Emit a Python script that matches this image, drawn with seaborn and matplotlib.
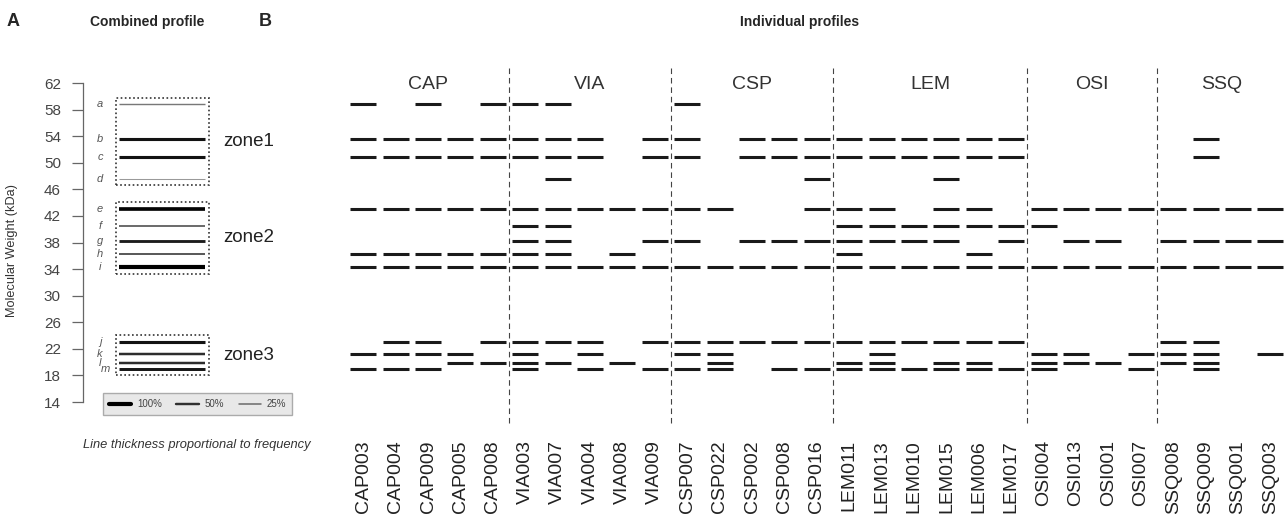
import numpy as np
import pandas as pd
import matplotlib.pyplot as plt
import seaborn as sns
from matplotlib.lines import Line2D
from matplotlib.patches import Rectangle

# samples in display order
samples = ['CAP003', 'CAP004', 'CAP009', 'CAP005', 'CAP008',
           'VIA003', 'VIA007', 'VIA004', 'VIA008', 'VIA009',
           'CSP007', 'CSP022', 'CSP002', 'CSP008', 'CSP016',
           'LEM011', 'LEM013', 'LEM010', 'LEM015', 'LEM006', 'LEM017',
           'OSI004', 'OSI013', 'OSI001', 'OSI007',
           'SSQ008', 'SSQ009', 'SSQ001', 'SSQ003']

# bands (kDa) and their zone
band_names = list('abcdefghijklm')
band_kda = [58.8, 53.6, 50.8, 47.6, 43.1, 40.5, 38.2, 36.3, 34.3, 23.1, 21.2, 19.8, 19.0]
band_zone = [1, 1, 1, 1, 2, 2, 2, 2, 2, 3, 3, 3, 3]

# bands present in each sample
profiles = ['abcehikm', 'bcehijkm', 'abcehijkm', 'bcehikl', 'abcehijl',
            'abcefghijklm', 'abcdefghijl', 'bceijkm', 'ehil', 'bcegijm',
            'abcegijkm', 'eijklm', 'bcgij', 'bcgijm', 'bcdegijm',
            'bcefghijlm', 'bcefgijklm', 'bcfgijm', 'bcdefgijlm', 'bcefhijlm', 'bcfgijm',
            'efiklm', 'egikl', 'egil', 'eikm',
            'egijkl', 'bcegijklm', 'egi', 'egik']

legend_levels = [1.0, 0.5, 0.25]
legend_labels = ['100%', '50%', '25%']

sns.set_theme(style='white')
plt.rcParams['font.family'] = ['Liberation Sans', 'DejaVu Sans']

W, H = 1285, 515
fig = plt.figure(figsize=(W / 100, H / 100), dpi=100)

rows = []
for i, (s, p) in enumerate(zip(samples, profiles)):
    for b in p:
        rows.append({'sample': s, 'pos': i, 'band': b,
                     'kda': band_kda[band_names.index(b)]})
df = pd.DataFrame(rows)
df['group'] = df['sample'].str[:3]

freq = (df.groupby('band')['sample'].nunique()
        .reindex(band_names).fillna(0) / len(samples)).values


def line_width(f):
    return 0.5 + 2.5 * f


def line_grey(f):
    return str(round(0.75 * (1 - f) ** 2, 3))


# ---------- A: combined profile ----------
axA = fig.add_axes([83 / W, 1 - 402 / H, 247 / W, 319 / H])
axA.set_xlim(0, 247)
axA.set_ylim(14, 62)
for sp in ['top', 'right', 'bottom']:
    axA.spines[sp].set_visible(False)
axA.spines['left'].set_color('#666')
axA.spines['left'].set_linewidth(0.9)
axA.set_xticks([])
axA.set_yticks(np.arange(14, 63, 4))
axA.tick_params(axis='y', left=True, length=7.9, width=0.9, color='#666',
                labelsize=11, labelcolor='#444', pad=8)
axA.set_ylabel('Molecular Weight (kDa)', fontsize=9.2, color='#333')
axA.yaxis.set_label_coords(-0.263, 0.476)

axA.hlines(band_kda, 36, 122, linewidths=[line_width(f) for f in freq],
           colors=[line_grey(f) for f in freq])

# letters: crowded ones (zone3) get squeezed side by side like the original
prev = None
shift = 0
for name, kda in zip(band_names, band_kda):
    if prev is not None and prev - kda < 1.0:
        shift = 5 if shift <= 0 else -3
    else:
        shift = 0
    axA.text(17 + shift, kda, name, style='italic', color='#555', fontsize=8,
             ha='center', va='center')
    prev = kda

for z in sorted(set(band_zone)):
    vals = [k for k, zz in zip(band_kda, band_zone) if zz == z]
    lo, hi = min(vals) - 1.0, max(vals) + 1.0
    axA.add_patch(Rectangle((32.7, lo), 93.6, hi - lo, fill=False,
                            ls=(0, (1, 1.5)), lw=1.2, ec='#333'))
    axA.text(140, (lo + hi) / 2, f'zone{z}', fontsize=13.5, color='#222',
             ha='left', va='center')

handles = [Line2D([], [], lw=line_width(f), color=line_grey(f)) for f in legend_levels]
leg = axA.legend(handles, legend_labels, ncol=3, fontsize=7, loc='center',
                 bbox_to_anchor=(197.5 / W, 1 - 404 / H),
                 bbox_transform=fig.transFigure, frameon=True, fancybox=False,
                 handlelength=2.3, handletextpad=0.6, columnspacing=1.5,
                 borderpad=0.6, labelcolor='#444')
leg.get_frame().set_facecolor('#e3e3e3')
leg.get_frame().set_edgecolor('#999')
leg.get_frame().set_linewidth(1)

fig.text(197 / W, 1 - 445 / H, 'Line thickness proportional to frequency',
         style='italic', fontsize=9.3, color='#333', ha='center', va='center')

# ---------- B: individual profiles ----------
axB = fig.add_axes([347 / W, 1 - 402 / H, 938 / W, 319 / H])
sns.scatterplot(data=df, x='pos', y='kda', marker='_', s=377, linewidth=2.2,
                color='#1a1a1a', legend=False, ax=axB)
axB.set_xlim(-0.5, 28.45)
axB.set_ylim(14, 62)
for sp in axB.spines.values():
    sp.set_visible(False)
axB.set_xlabel('')
axB.set_ylabel('')
axB.set_yticks([])
axB.set_xticks(range(len(samples)))
axB.set_xticklabels(samples, rotation=90, fontsize=14, color='#222')
axB.tick_params(axis='x', length=0, pad=27.4)

groups = pd.Series([s[:3] for s in samples])
group_order = list(dict.fromkeys(groups))
sizes = [int((groups == g).sum()) for g in group_order]
edges = np.cumsum(sizes)
starts = edges - np.array(sizes)
axB.vlines(edges[:-1] - 0.5, 10.9, 64.3, colors='#444', lw=0.8,
           linestyles=(0, (5, 3.5)), clip_on=False)
for g, a, b in zip(group_order, starts, edges):
    axB.text((a + b - 1) / 2, 61.7, g, fontsize=14, color='#333',
             ha='center', va='center')

# ---------- titles ----------
fig.text(13 / W, 1 - 22 / H, 'A', fontsize=13, fontweight='bold', ha='center', va='center')
fig.text(265 / W, 1 - 22 / H, 'B', fontsize=13, fontweight='bold', ha='center', va='center')
fig.text(147.5 / W, 1 - 22 / H, 'Combined profile', fontsize=10, fontweight='bold',
         ha='center', va='center')
fig.text(800 / W, 1 - 22 / H, 'Individual profiles', fontsize=10, fontweight='bold',
         ha='center', va='center')

fig.savefig('out.png', dpi=100)
